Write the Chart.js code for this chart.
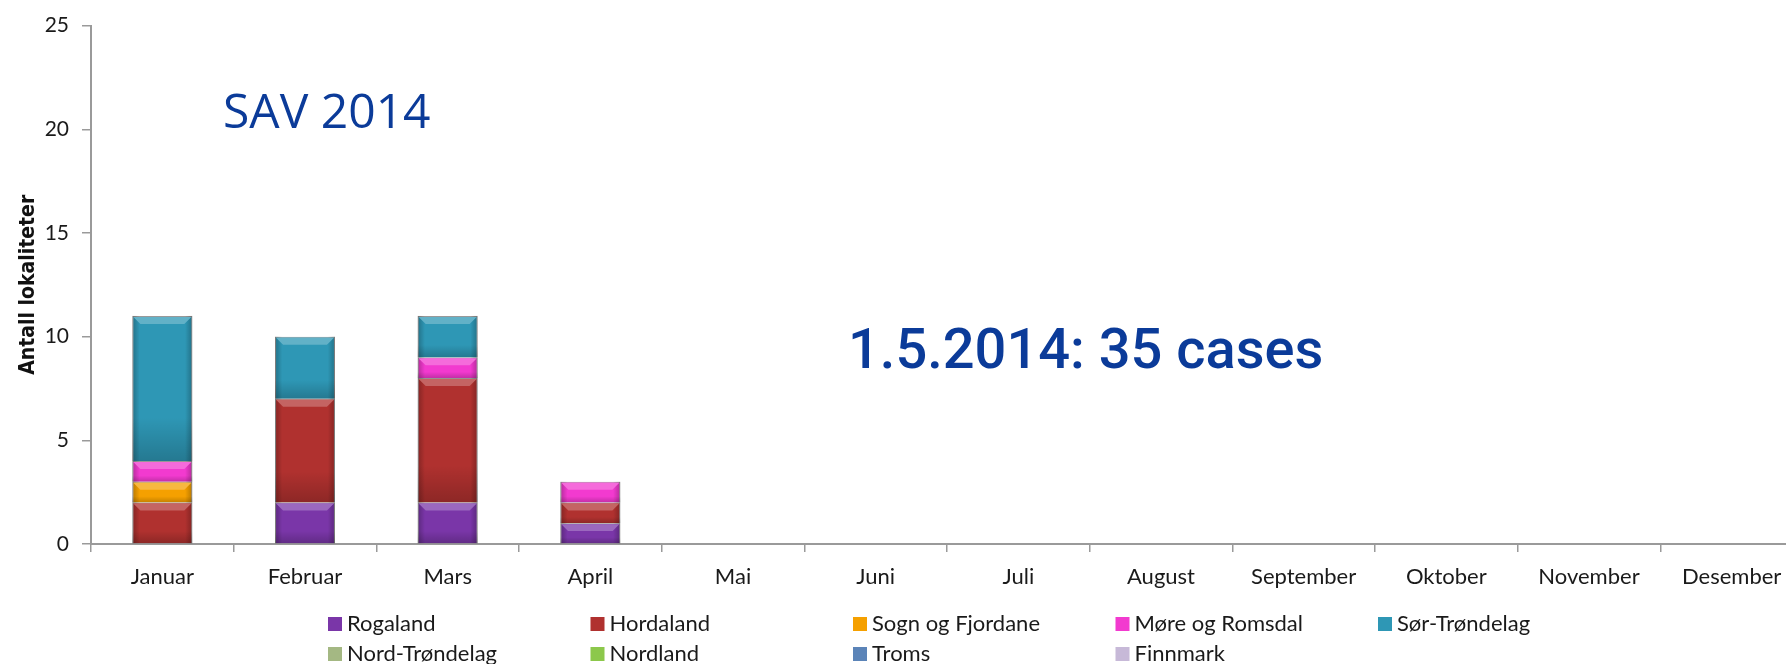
<!DOCTYPE html>
<html>
<head>
<meta charset="utf-8">
<script src="https://cdn.jsdelivr.net/npm/chart.js@4.4.1/dist/chart.umd.min.js"></script>
<style>
  html, body { margin: 0; padding: 0; background: #fff; overflow: hidden; }
  #wrap { width: 1810px; height: 664px; }
</style>
</head>
<body>
<div id="wrap"><canvas id="savChart" width="1810" height="664"></canvas></div>
<script>
// Måneder og antall lokaliteter per fylke (SAV 2014)
const months = ['Januar', 'Februar', 'Mars', 'April', 'Mai', 'Juni', 'Juli', 'August',
    'September', 'Oktober', 'November', 'Desember'];

const rogaland       = [0, 2, 2, 1, 0, 0, 0, 0, 0, 0, 0, 0];
const hordaland      = [2, 5, 6, 1, 0, 0, 0, 0, 0, 0, 0, 0];
const sognFjordane   = [1, 0, 0, 0, 0, 0, 0, 0, 0, 0, 0, 0];
const moreRomsdal    = [1, 0, 1, 1, 0, 0, 0, 0, 0, 0, 0, 0];
const sorTrondelag   = [7, 3, 2, 0, 0, 0, 0, 0, 0, 0, 0, 0];
const nordTrondelag  = [0, 0, 0, 0, 0, 0, 0, 0, 0, 0, 0, 0];
const nordland       = [0, 0, 0, 0, 0, 0, 0, 0, 0, 0, 0, 0];
const troms          = [0, 0, 0, 0, 0, 0, 0, 0, 0, 0, 0, 0];
const finnmark       = [0, 0, 0, 0, 0, 0, 0, 0, 0, 0, 0, 0];

const yTicks = [0, 5, 10, 15, 20, 25];

const series = [
    { label: 'Rogaland', data: rogaland, color: '#7a36a8' },
    { label: 'Hordaland', data: hordaland, color: '#b0312f' },
    { label: 'Sogn og Fjordane', data: sognFjordane, color: '#f5a000' },
    { label: 'Møre og Romsdal', data: moreRomsdal, color: '#f23acf' },
    { label: 'Sør-Trøndelag', data: sorTrondelag, color: '#2e97b5' },
    { label: 'Nord-Trøndelag', data: nordTrondelag, color: '#a4b883' },
    { label: 'Nordland', data: nordland, color: '#8cc84b' },
    { label: 'Troms', data: troms, color: '#5b84b8' },
    { label: 'Finnmark', data: finnmark, color: '#c7b9d8' }
];

// litt "3D"-skygge på hver stolpe, som i Excel-figuren
const bevelPlugin = {
    id: 'bevel',
    afterDatasetsDraw(chart) {
        const ctx = chart.ctx;
        chart.data.datasets.forEach((ds, i) => {
            const meta = chart.getDatasetMeta(i);
            meta.data.forEach(bar => {
                const h = bar.base - bar.y;
                if (h < 2) return;
                const left = bar.x - bar.width / 2;
                const right = bar.x + bar.width / 2;
                ctx.save();
                const g = ctx.createLinearGradient(left, 0, right, 0);
                g.addColorStop(0, 'rgba(0,0,0,0.25)');
                g.addColorStop(0.12, 'rgba(0,0,0,0)');
                g.addColorStop(0.88, 'rgba(0,0,0,0)');
                g.addColorStop(1, 'rgba(0,0,0,0.25)');
                ctx.fillStyle = g;
                ctx.fillRect(left, bar.y, bar.width, h);
                const gv = ctx.createLinearGradient(0, bar.y, 0, bar.base);
                gv.addColorStop(0, 'rgba(0,0,0,0)');
                gv.addColorStop(0.7, 'rgba(0,0,0,0)');
                gv.addColorStop(1, 'rgba(0,0,0,0.2)');
                ctx.fillStyle = gv;
                ctx.fillRect(left, bar.y, bar.width, h);
                const b = Math.min(7, h / 3);
                ctx.beginPath();
                ctx.moveTo(left + 1, bar.y + 1);
                ctx.lineTo(right - 1, bar.y + 1);
                ctx.lineTo(right - 1 - b, bar.y + 1 + b);
                ctx.lineTo(left + 1 + b, bar.y + 1 + b);
                ctx.closePath();
                ctx.fillStyle = ds.backgroundColor;
                ctx.fill();
                ctx.fillStyle = 'rgba(255,255,255,0.25)';
                ctx.fill();
                ctx.restore();
            });
        });
    }
};

// egen forklaring i rutenett (5 kolonner) + teksten i figuren
const extrasPlugin = {
    id: 'extras',
    afterDraw(chart) {
        const ctx = chart.ctx;
        ctx.save();
        ctx.font = '22px Lato, sans-serif';
        ctx.textBaseline = 'middle';
        ctx.textAlign = 'left';
        chart.data.datasets.forEach((ds, i) => {
            const col = i % 5;
            const row = Math.floor(i / 5);
            const x = 328 + col * 262.5;
            const y = 624 + row * 30;
            ctx.fillStyle = ds.backgroundColor;
            ctx.fillRect(x, y - 7, 14, 14);
            ctx.fillStyle = '#1a1a1a';
            ctx.fillText(ds.label, x + 19, y);
        });

        ctx.fillStyle = '#0b3b99';
        ctx.textBaseline = 'alphabetic';
        ctx.font = '48px "Open Sans", sans-serif';
        ctx.fillText('SAV 2014', 223, 128);
        ctx.font = '500 56px Roboto, sans-serif';
        ctx.fillText('1.5.2014: 35 cases', 848, 368);
        ctx.restore();
    }
};

const ctx = document.getElementById('savChart').getContext('2d');
new Chart(ctx, {
    type: 'bar',
    data: {
        labels: months,
        datasets: series.map(s => ({
            label: s.label,
            data: s.data,
            backgroundColor: s.color,
            borderColor: 'rgba(110,110,110,0.7)',
            borderWidth: 1,
            categoryPercentage: 1,
            barPercentage: 0.42
        }))
    },
    options: {
        responsive: false,
        animation: false,
        layout: { padding: { top: 23, right: 7, left: 0, bottom: 0 } },
        plugins: {
            legend: { display: false },
            tooltip: { enabled: false }
        },
        scales: {
            x: {
                stacked: true,
                grid: { drawOnChartArea: false, drawTicks: true, tickLength: 8, color: '#9a9a9a', lineWidth: 1.5 },
                border: { color: '#9a9a9a', width: 2 },
                ticks: {
                    color: '#1a1a1a',
                    padding: 12,
                    maxRotation: 0,
                    autoSkip: false,
                    font: { family: 'Lato, sans-serif', size: 22 }
                },
                afterFit(scale) { scale.height = 120; }
            },
            y: {
                stacked: true,
                min: 0,
                max: 25,
                afterBuildTicks(scale) { scale.ticks = yTicks.map(v => ({ value: v })); },
                grid: { drawOnChartArea: false, drawTicks: true, tickLength: 9, color: '#9a9a9a', lineWidth: 1.5 },
                border: { color: '#9a9a9a', width: 2 },
                ticks: {
                    color: '#1a1a1a',
                    padding: 13,
                    font: { family: 'Lato, sans-serif', size: 21 }
                },
                title: {
                    display: true,
                    text: 'Antall lokaliteter',
                    color: '#111',
                    padding: { top: 18, bottom: 0 },
                    font: { family: "'Liberation Sans Narrow', 'DejaVu Sans Condensed', sans-serif", size: 21, weight: 'bold', lineHeight: 1 }
                },
                afterFit(scale) { scale.width = 91; }
            }
        }
    },
    plugins: [bevelPlugin, extrasPlugin]
});
</script>
</body>
</html>
